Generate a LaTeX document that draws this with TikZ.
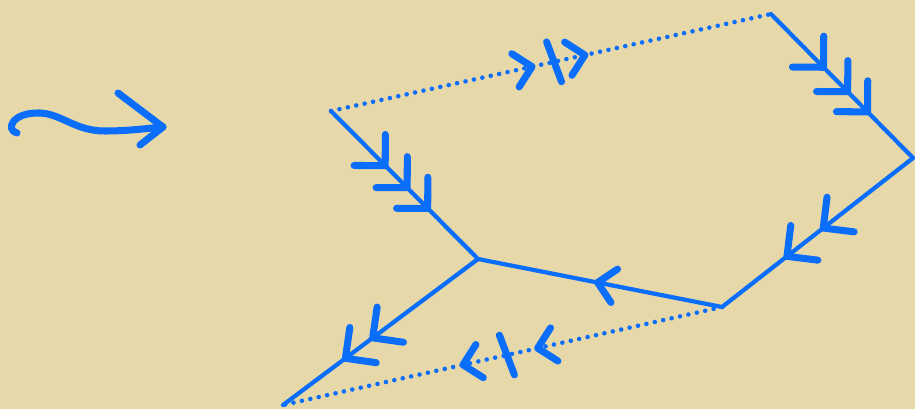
\documentclass[tikz,border=0pt]{standalone}
\usepackage{tikz}
\usetikzlibrary{arrows.meta,calc,positioning,decorations.markings}
\definecolor{paper}{RGB}{231,216,170}
\definecolor{ink}{RGB}{10,110,250}
\tikzset{wire/.style={ink,line width=2.4pt,line cap=round},
  dotwire/.style={ink,line width=2.6pt,line cap=round,dash pattern=on 0pt off 4.9pt},
  chevline/.style={ink,solid,line width=4pt,line cap=round,line join=round},
  chev/.style={postaction={decorate,decoration={markings,mark=at position #1 with {\draw[chevline] (-22,22) -- (0,0) -- (-22,-22);}}}},
  schev/.style={postaction={decorate,decoration={markings,mark=at position #1 with {\draw[chevline] (-17,17) -- (0,0) -- (-17,-17);}}}},
  crossbar/.style={postaction={decorate,decoration={markings,mark=at position #1 with {\draw[chevline] (-3,-21) -- (3,21);}}}}}

\begin{document}
\begin{tikzpicture}[x=0.02cm,y=-0.02cm,line join=round]
\fill[paper] (0,0) rectangle (915,409);
\useasboundingbox (0,0) rectangle (915,409);
% --- squiggle arrow
\coordinate (s0) at (17,133); \coordinate (s1) at (163,127);
\draw[chevline] (s0) .. controls (5,130) and (12,112) .. (40,113) .. controls (62,114) and (75,131) .. (105,131) .. controls (130,131) and (150,128) .. (s1);
\draw[chevline] (118,93) -- (s1) -- (140,145);
% --- vertices
\coordinate (A) at (331,111); \coordinate (B) at (771,14);
\coordinate (C) at (913,158); \coordinate (D) at (722,307);
\coordinate (E) at (478,259); \coordinate (F) at (283,405);
% --- solid edges
\draw[wire,chev=0.37,chev=0.52,chev=0.66] (A) -- (E);
\draw[wire,chev=0.37,chev=0.54,chev=0.68] (B) -- (C);
\draw[wire,chev=0.47,chev=0.66] (C) -- (D);
\draw[wire,schev=0.51] (D) -- (E);
\draw[wire,chev=0.54,chev=0.68] (E) -- (F);
% --- dotted edges
\draw[dotwire,schev=0.457,crossbar=0.507,schev=0.577] (A) -- (B);
\draw[dotwire,schev=0.42,crossbar=0.49,schev=0.59] (D) -- (F);
\end{tikzpicture}
\end{document}
